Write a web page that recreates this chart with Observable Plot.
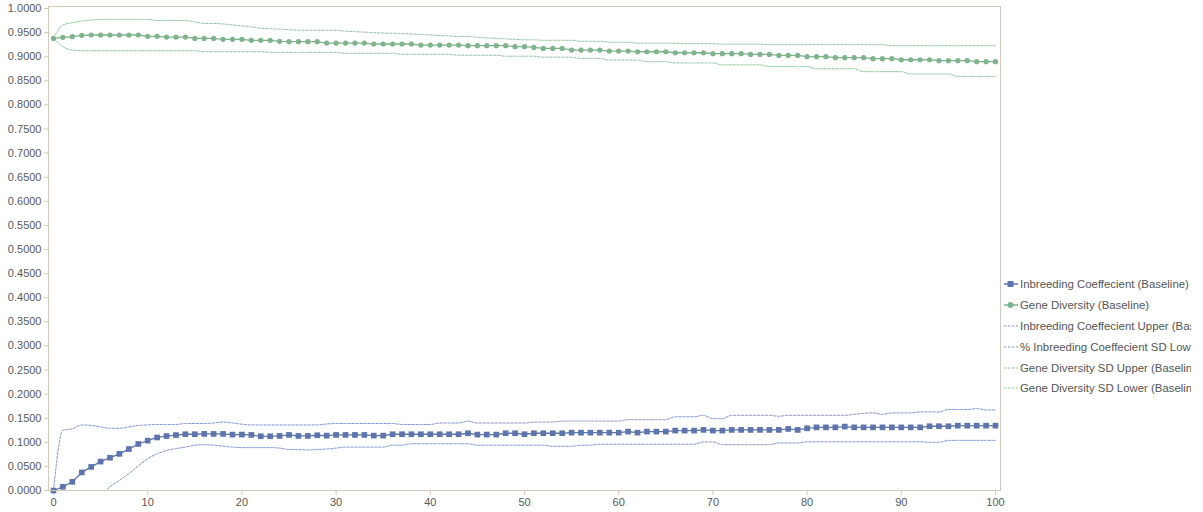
<!DOCTYPE html>
<html>
<head>
<meta charset="utf-8">
<script src="https://cdn.jsdelivr.net/npm/d3@7"></script>
<script src="https://cdn.jsdelivr.net/npm/@observablehq/plot@0.6"></script>
<style>
  html, body { margin: 0; padding: 0; background: #fff; overflow: hidden; width: 1203px; height: 512px; }
  #wrap { position: relative; width: 1203px; height: 512px; }
  #chart { position: absolute; left: 0; top: 0; }
  #chart svg { overflow: visible; }
  #chart svg text { fill: #595959; }
  #legend { position: absolute; left: 1003px; top: 274px; width: 188px; overflow: hidden; font-family: "Liberation Sans", Arial, sans-serif; font-size: 11.4px; color: #555; white-space: nowrap; }
  .item { height: 20.8px; display: flex; align-items: center; }
  .item svg { margin-right: 1px; flex: none; }
</style>
</head>
<body>
<div id="wrap"><div id="chart"></div><div id="legend"></div></div>
<script>
const generations = d3.range(0, 101);
const xTicks = [0, 10, 20, 30, 40, 50, 60, 70, 80, 90, 100];
const yTicks = [0, 0.05, 0.1, 0.15, 0.2, 0.25, 0.3, 0.35, 0.4, 0.45, 0.5, 0.55, 0.6, 0.65, 0.7, 0.75, 0.8, 0.85, 0.9, 0.95, 1.0];

const seriesNames = [
  "Inbreeding Coeffecient (Baseline)",
  "Gene Diversity (Baseline)",
  "Inbreeding Coeffecient Upper (Baseline)",
  "% Inbreeding Coeffecient SD Lower (Baseline)",
  "Gene Diversity SD Upper (Baseline)",
  "Gene Diversity SD Lower (Baseline)"
];

const inbreeding = [
  0, 0.0077, 0.018, 0.0375, 0.049, 0.060, 0.068, 0.076, 0.086, 0.0965,
  0.1035, 0.110, 0.113, 0.115, 0.1167, 0.1167, 0.1174, 0.1174, 0.1174, 0.116,
  0.116, 0.1153, 0.1125, 0.1125, 0.1132, 0.1153, 0.1132, 0.1132, 0.1146, 0.1139,
  0.1153, 0.1153, 0.1153, 0.1153, 0.1139, 0.1139, 0.1167, 0.1167, 0.1167, 0.1167,
  0.1167, 0.1167, 0.1167, 0.1167, 0.1188, 0.116, 0.116, 0.116, 0.1188, 0.1188,
  0.1167, 0.1188, 0.1188, 0.1188, 0.1188, 0.120, 0.120, 0.120, 0.120, 0.120,
  0.120, 0.1222, 0.120, 0.1222, 0.1222, 0.1222, 0.1243, 0.1243, 0.1243, 0.1257,
  0.1243, 0.1243, 0.1257, 0.1257, 0.1257, 0.1257, 0.1257, 0.1257, 0.1278, 0.1257,
  0.129, 0.131, 0.131, 0.131, 0.1326, 0.131, 0.131, 0.131, 0.131, 0.131,
  0.131, 0.131, 0.131, 0.1333, 0.1333, 0.1333, 0.1345, 0.1345, 0.1345, 0.1345,
  0.1345
];

const geneDiversity = [
  0.938, 0.9401, 0.9415, 0.9443, 0.945, 0.945, 0.945, 0.945, 0.945, 0.945,
  0.9422, 0.9422, 0.9408, 0.9408, 0.9408, 0.938, 0.938, 0.938, 0.936, 0.936,
  0.936, 0.9339, 0.9339, 0.9339, 0.9318, 0.9311, 0.9311, 0.9311, 0.9311, 0.9283,
  0.9283, 0.9283, 0.9283, 0.9283, 0.9263, 0.9263, 0.9263, 0.9263, 0.9263, 0.9242,
  0.9242, 0.9242, 0.9242, 0.9242, 0.9228, 0.9228, 0.9228, 0.9228, 0.9228, 0.9207,
  0.9207, 0.9193, 0.9172, 0.9172, 0.9172, 0.9138, 0.9138, 0.9138, 0.9138, 0.9117,
  0.9117, 0.9117, 0.9103, 0.9103, 0.9103, 0.9103, 0.9082, 0.9082, 0.9082, 0.9082,
  0.9062, 0.9062, 0.9062, 0.9062, 0.9048, 0.9048, 0.9048, 0.9027, 0.9027, 0.9027,
  0.900, 0.900, 0.900, 0.8979, 0.8979, 0.8979, 0.8979, 0.8958, 0.8958, 0.8958,
  0.8937, 0.8937, 0.8937, 0.8937, 0.8917, 0.8917, 0.8917, 0.8917, 0.8896, 0.8896,
  0.8896
];

const inbreedingUpper = [
  0, 0.125, 0.128, 0.136, 0.135, 0.132, 0.129, 0.129, 0.132, 0.135,
  0.136, 0.137, 0.137, 0.137, 0.139, 0.139, 0.139, 0.140, 0.142, 0.140,
  0.1375, 0.136, 0.136, 0.136, 0.136, 0.136, 0.136, 0.136, 0.136, 0.138,
  0.139, 0.139, 0.139, 0.139, 0.139, 0.139, 0.139, 0.137, 0.137, 0.137,
  0.137, 0.140, 0.140, 0.140, 0.144, 0.140, 0.140, 0.140, 0.140, 0.140,
  0.140, 0.142, 0.142, 0.142, 0.144, 0.144, 0.144, 0.144, 0.144, 0.144,
  0.144, 0.147, 0.147, 0.147, 0.147, 0.147, 0.153, 0.153, 0.153, 0.156,
  0.149, 0.149, 0.156, 0.156, 0.156, 0.156, 0.156, 0.154, 0.156, 0.156,
  0.156, 0.156, 0.156, 0.156, 0.156, 0.158, 0.160, 0.161, 0.158, 0.161,
  0.161, 0.161, 0.163, 0.163, 0.163, 0.168, 0.168, 0.168, 0.170, 0.167,
  0.167
];

const inbreedingLower = [
  0, -0.109, -0.092, -0.061, -0.037, -0.012, 0.008, 0.021, 0.035, 0.051,
  0.066, 0.076, 0.083, 0.087, 0.090, 0.094, 0.095, 0.094, 0.092, 0.090,
  0.089, 0.089, 0.089, 0.089, 0.088, 0.085, 0.085, 0.084, 0.085, 0.086,
  0.088, 0.090, 0.090, 0.090, 0.090, 0.090, 0.094, 0.094, 0.097, 0.097,
  0.097, 0.097, 0.097, 0.097, 0.097, 0.094, 0.094, 0.094, 0.094, 0.094,
  0.094, 0.094, 0.094, 0.0917, 0.0917, 0.0917, 0.094, 0.094, 0.096, 0.096,
  0.096, 0.096, 0.096, 0.096, 0.096, 0.096, 0.096, 0.096, 0.096, 0.1007,
  0.1007, 0.095, 0.095, 0.095, 0.095, 0.095, 0.095, 0.0986, 0.0986, 0.0986,
  0.101, 0.101, 0.101, 0.101, 0.101, 0.101, 0.101, 0.101, 0.101, 0.101,
  0.101, 0.101, 0.101, 0.100, 0.100, 0.104, 0.104, 0.104, 0.104, 0.104,
  0.104
];

const geneDiversityUpper = [
  0.938, 0.9657, 0.9706, 0.974, 0.976, 0.9775, 0.9775, 0.9775, 0.9775, 0.9775,
  0.9775, 0.975, 0.975, 0.975, 0.975, 0.972, 0.969, 0.969, 0.968, 0.966,
  0.964, 0.962, 0.959, 0.958, 0.957, 0.956, 0.955, 0.955, 0.955, 0.955,
  0.955, 0.953, 0.952, 0.951, 0.950, 0.949, 0.9485, 0.948, 0.947, 0.946,
  0.945, 0.944, 0.943, 0.942, 0.942, 0.940, 0.939, 0.938, 0.937, 0.936,
  0.935, 0.935, 0.934, 0.934, 0.934, 0.934, 0.932, 0.932, 0.932, 0.930,
  0.930, 0.930, 0.928, 0.928, 0.928, 0.928, 0.928, 0.927, 0.927, 0.927,
  0.927, 0.926, 0.926, 0.926, 0.926, 0.926, 0.925, 0.925, 0.925, 0.925,
  0.925, 0.925, 0.925, 0.925, 0.925, 0.925, 0.925, 0.925, 0.925, 0.9227,
  0.9227, 0.9227, 0.9227, 0.9227, 0.9227, 0.9227, 0.9227, 0.9227, 0.9227, 0.9227,
  0.9227
];

const geneDiversityLower = [
  0.938, 0.9207, 0.9138, 0.9124, 0.9124, 0.9124, 0.9124, 0.9124, 0.9124, 0.9124,
  0.9124, 0.9124, 0.9124, 0.9124, 0.9124, 0.9124, 0.9103, 0.9103, 0.9103, 0.9103,
  0.9103, 0.9103, 0.9103, 0.909, 0.909, 0.909, 0.909, 0.909, 0.909, 0.909,
  0.909, 0.907, 0.907, 0.907, 0.907, 0.907, 0.907, 0.905, 0.905, 0.905,
  0.905, 0.905, 0.905, 0.903, 0.903, 0.903, 0.903, 0.903, 0.901, 0.901,
  0.901, 0.901, 0.899, 0.899, 0.899, 0.899, 0.8965, 0.8965, 0.8965, 0.893,
  0.893, 0.893, 0.893, 0.8896, 0.8896, 0.8896, 0.887, 0.887, 0.887, 0.887,
  0.887, 0.883, 0.883, 0.883, 0.883, 0.883, 0.8795, 0.8795, 0.8795, 0.8795,
  0.8795, 0.875, 0.875, 0.875, 0.875, 0.875, 0.869, 0.869, 0.869, 0.869,
  0.869, 0.864, 0.864, 0.864, 0.864, 0.864, 0.859, 0.859, 0.859, 0.859,
  0.859
];

const blue = "#5d75ab";
const green = "#7eb38d";
const blueDash = "#8596cc";
const greenDash = "#8fc89e";
const frameColor = "#d8c8b9";

const chart = Plot.plot({
  width: 1001,
  height: 512,
  marginLeft: 48,
  marginRight: 1,
  marginTop: 6,
  marginBottom: 22,
  x: {domain: [0, 100], insetLeft: 5, insetRight: 5, label: null},
  y: {domain: [0, 1], insetTop: 2, label: null},
  style: {fontFamily: "'Liberation Sans', Arial, sans-serif", fontSize: "11px", background: "white", color: "#595959"},
  marks: [
    Plot.axisY(yTicks, {tickFormat: d3.format(".4f"), tickSize: 4, tickPadding: 3, stroke: frameColor, label: null}),
    Plot.axisX(xTicks, {tickFormat: d3.format("d"), tickSize: 5, tickPadding: 3, stroke: frameColor, label: null}),
    Plot.line(generations, {x: d => d, y: geneDiversityUpper, stroke: greenDash, strokeWidth: 1, strokeDasharray: "2.5,1.5", curve: "monotone-x"}),
    Plot.line(generations, {x: d => d, y: geneDiversityLower, stroke: greenDash, strokeWidth: 1, strokeDasharray: "2.5,1.5", curve: "monotone-x"}),
    Plot.line(generations, {x: d => d, y: inbreedingUpper, stroke: blueDash, strokeWidth: 1, strokeDasharray: "2.5,1.5", curve: "monotone-x", clip: true}),
    Plot.line(generations, {x: d => d, y: inbreedingLower, stroke: blueDash, strokeWidth: 1, strokeDasharray: "2.5,1.5", curve: "monotone-x", clip: true}),
    Plot.line(generations, {x: d => d, y: geneDiversity, stroke: green, strokeWidth: 1.3}),
    Plot.dot(generations, {x: d => d, y: geneDiversity, fill: green, r: 2.6, symbol: "circle"}),
    Plot.line(generations, {x: d => d, y: inbreeding, stroke: blue, strokeWidth: 1.3}),
    Plot.dot(generations, {x: d => d, y: inbreeding, fill: blue, r: 3.2, symbol: "square"}),
    Plot.frame({stroke: frameColor})
  ]
});
document.getElementById("chart").appendChild(chart);

// Legend
const legendStyles = [
  {color: blue, dash: null, marker: "square"},
  {color: green, dash: null, marker: "circle"},
  {color: blueDash, dash: "2.5,1.5", marker: null},
  {color: blueDash, dash: "2.5,1.5", marker: null},
  {color: greenDash, dash: "2.5,1.5", marker: null},
  {color: greenDash, dash: "2.5,1.5", marker: null}
];
const legend = document.getElementById("legend");
seriesNames.forEach((name, i) => {
  const s = legendStyles[i];
  const item = document.createElement("div");
  item.className = "item";
  let marker = "";
  if (s.marker === "square") marker = `<rect x="4.5" y="2" width="6" height="6" fill="${s.color}"/>`;
  if (s.marker === "circle") marker = `<circle cx="7.5" cy="5" r="3" fill="${s.color}"/>`;
  item.innerHTML = `<svg width="16" height="10"><line x1="1" x2="15" y1="5" y2="5" stroke="${s.color}" stroke-width="${s.dash ? 1 : 1.5}" ${s.dash ? `stroke-dasharray="${s.dash}"` : ""}/>${marker}</svg><span>${name}</span>`;
  legend.appendChild(item);
});
</script>
</body>
</html>
